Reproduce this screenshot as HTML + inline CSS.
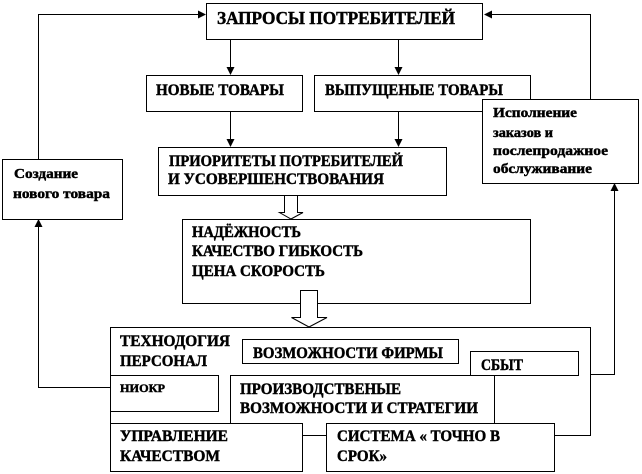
<!DOCTYPE html>
<html>
<head>
<meta charset="utf-8">
<style>
html,body{margin:0;padding:0;background:#fff;width:642px;height:474px;overflow:hidden}
svg{display:block}
rect.w{fill:#fff;stroke:#000;stroke-width:1;shape-rendering:crispEdges}
path.c{fill:none;stroke:#000;stroke-width:1;shape-rendering:crispEdges}
path.h{fill:#000;stroke:none}
path.o{fill:#fff;stroke:#000;stroke-width:1}
text{font-family:"Liberation Serif","Noto Serif CJK SC",serif;font-weight:bold;fill:#000;stroke:#000;stroke-width:.45}
</style>
</head>
<body>
<svg width="642" height="474" viewBox="0 0 642 474" xmlns="http://www.w3.org/2000/svg">
<path class="c" d="M38.5 159V14.5H200"/>
<path class="c" d="M590.5 99V14.5H490"/>
<path class="c" d="M230.5 39V68M230.5 111V140M398.5 39V68M398.5 111V140"/>
<path class="c" d="M110 387.5H38.5V225"/>
<path class="c" d="M590 374.5H614.5V190"/>
<path class="h" d="M206 14.5L198 10.5V18.5ZM484 14.5L492 10.5V18.5Z"/>
<path class="h" d="M230.5 75L226.5 67H234.5ZM230.5 147L226.5 139H234.5ZM398.5 75L394.5 67H402.5ZM398.5 147L394.5 139H402.5Z"/>
<path class="h" d="M38.5 219L34.5 227H42.5ZM614.5 183L610.5 191H618.5Z"/>

<rect class="w" x="206.5" y="3.5" width="276" height="36"/>
<text x="217" y="24" font-size="18" textLength="238" lengthAdjust="spacingAndGlyphs">ЗАПРОСЫ ПОТРЕБИТЕЛЕЙ</text>

<rect class="w" x="146.5" y="75.5" width="156" height="36"/>
<text x="156" y="95" font-size="16" textLength="128" lengthAdjust="spacingAndGlyphs">НОВЫЕ ТОВАРЫ</text>

<rect class="w" x="314.5" y="75.5" width="216" height="36"/>
<text x="325" y="95" font-size="16" textLength="178" lengthAdjust="spacingAndGlyphs">ВЫПУЩЕНЫЕ ТОВАРЫ</text>

<rect class="w" x="158.5" y="147.5" width="288" height="48"/>
<text x="169" y="166" font-size="16" textLength="234" lengthAdjust="spacingAndGlyphs">ПРИОРИТЕТЫ ПОТРЕБИТЕЛЕЙ</text>
<text x="168" y="184" font-size="16" textLength="216" lengthAdjust="spacingAndGlyphs">И УСОВЕРШЕНСТВОВАНИЯ</text>

<rect class="w" x="2.5" y="159.5" width="120" height="60"/>
<text x="14" y="178" font-size="14" textLength="64" lengthAdjust="spacingAndGlyphs">Создание</text>
<text x="13" y="198" font-size="14" textLength="97" lengthAdjust="spacingAndGlyphs">нового товара</text>

<rect class="w" x="482.5" y="99.5" width="156" height="84"/>
<text x="493" y="117" font-size="14" textLength="84" lengthAdjust="spacingAndGlyphs">Исполнение</text>
<text x="493" y="137" font-size="14" textLength="60" lengthAdjust="spacingAndGlyphs">заказов и</text>
<text x="493" y="155" font-size="14" textLength="115" lengthAdjust="spacingAndGlyphs">послепродажное</text>
<text x="493" y="173" font-size="14" textLength="99" lengthAdjust="spacingAndGlyphs">обслуживание</text>

<rect class="w" x="182.5" y="219.5" width="348" height="84"/>
<text x="192" y="237" font-size="16" textLength="109" lengthAdjust="spacingAndGlyphs">НАДЁЖНОСТЬ</text>
<text x="192" y="256" font-size="16" textLength="171" lengthAdjust="spacingAndGlyphs">КАЧЕСТВО ГИБКОСТЬ</text>
<text x="192" y="276" font-size="16" textLength="133" lengthAdjust="spacingAndGlyphs">ЦЕНА СКОРОСТЬ</text>

<path class="o" d="M284.5 195.5H297.5V212.5H303L291 219L279.5 212.5H284.5Z"/>

<rect class="w" x="110.5" y="327.5" width="480" height="108"/>
<path class="o" d="M300.5 290.5H317.5V317.5H327L309 327L291.5 317.5H300.5Z"/>
<text x="120" y="346" font-size="16" textLength="110" lengthAdjust="spacingAndGlyphs">ТЕХНОДОГИЯ</text>
<text x="120" y="366" font-size="16" textLength="87" lengthAdjust="spacingAndGlyphs">ПЕРСОНАЛ</text>

<rect class="w" x="242.5" y="339.5" width="216" height="24"/>
<text x="253" y="358" font-size="16" textLength="190" lengthAdjust="spacingAndGlyphs">ВОЗМОЖНОСТИ ФИРМЫ</text>

<rect class="w" x="110.5" y="375.5" width="108" height="36"/>
<text x="120" y="392" font-size="12" textLength="45" lengthAdjust="spacingAndGlyphs">НИОКР</text>

<rect class="w" x="230.5" y="375.5" width="264" height="60"/>
<text x="240" y="394" font-size="16" textLength="161" lengthAdjust="spacingAndGlyphs">ПРОИЗВОДСТВЕНЫЕ</text>
<text x="240" y="413" font-size="16" textLength="238" lengthAdjust="spacingAndGlyphs">ВОЗМОЖНОСТИ И СТРАТЕГИИ</text>

<rect class="w" x="470.5" y="351.5" width="108" height="24"/>
<text x="481" y="370" font-size="16" textLength="42" lengthAdjust="spacingAndGlyphs">СБЫТ</text>

<rect class="w" x="110.5" y="423.5" width="192" height="48"/>
<text x="120" y="441" font-size="16" textLength="108" lengthAdjust="spacingAndGlyphs">УПРАВЛЕНИЕ</text>
<text x="120" y="461" font-size="16" textLength="100" lengthAdjust="spacingAndGlyphs">КАЧЕСТВОМ</text>

<rect class="w" x="326.5" y="423.5" width="228" height="48"/>
<text x="337" y="441" font-size="16" textLength="163" lengthAdjust="spacingAndGlyphs">СИСТЕМА « ТОЧНО В</text>
<text x="337" y="461" font-size="16" textLength="50" lengthAdjust="spacingAndGlyphs">СРОК»</text>
</svg>
</body>
</html>
